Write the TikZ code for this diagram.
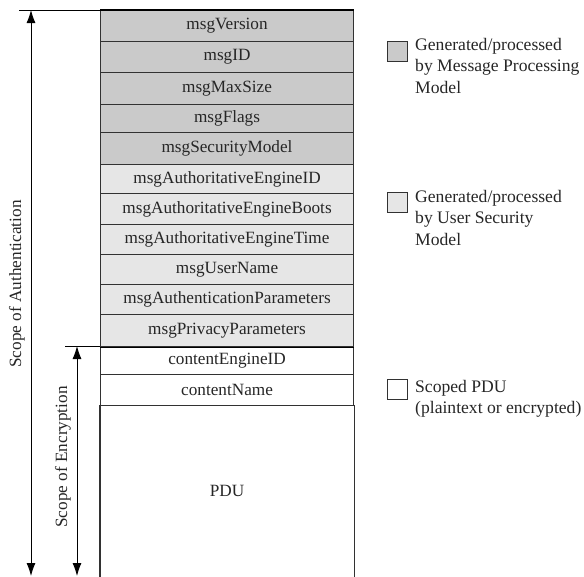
\documentclass[tikz,border=0pt]{standalone}
\usepackage{fontspec}
\setmainfont{Liberation Serif}
\usetikzlibrary{arrows.meta}
\definecolor{darkg}{RGB}{202,202,202}
\definecolor{lightg}{RGB}{230,230,230}
\definecolor{edge}{RGB}{50,50,50}
\begin{document}
\begin{tikzpicture}[x=1pt,y=-1pt,
  rowbox/.style={draw=edge, line width=1.1pt, minimum width=253pt, inner sep=0pt, anchor=north west, font=\fontsize{17.2}{20}\selectfont, text=black!85},
  legsq/.style={draw=edge, line width=1.2pt, minimum width=20pt, minimum height=20pt, inner sep=0pt, anchor=north west},
  legtxt/.style={anchor=north west, align=left, inner sep=0pt, font=\fontsize{17.6}{21.5}\selectfont, text=black!85},
  scopearrow/.style={{Latex[length=13pt,width=9pt]}-{Latex[length=13pt,width=9pt]}, line width=0.9pt},
  scopelabel/.style={rotate=90, font=\fontsize{17.2}{20}\selectfont, text=black!85}]
\useasboundingbox (0,0) rectangle (584,576);
% rows
\node[rowbox, fill=darkg, minimum height=31pt] (r1) at (100,10) {msgVersion};
\node[rowbox, fill=darkg, minimum height=31pt] (r2) at (100,41) {msgID};
\node[rowbox, fill=darkg, minimum height=32pt] (r3) at (100,72) {msgMaxSize};
\node[rowbox, fill=darkg, minimum height=28pt] (r4) at (100,104) {msgFlags};
\node[rowbox, fill=darkg, minimum height=32pt] (r5) at (100,132) {msgSecurityModel};
\node[rowbox, fill=lightg, minimum height=29pt] (r6) at (100,164) {msgAuthoritativeEngineID};
\node[rowbox, fill=lightg, minimum height=31pt] (r7) at (100,193) {msgAuthoritativeEngineBoots};
\node[rowbox, fill=lightg, minimum height=30pt] (r8) at (100,224) {msgAuthoritativeEngineTime};
\node[rowbox, fill=lightg, minimum height=30pt] (r9) at (100,254) {msgUserName};
\node[rowbox, fill=lightg, minimum height=30pt] (r10) at (100,284) {msgAuthenticationParameters};
\node[rowbox, fill=lightg, minimum height=32pt] (r11) at (100,314) {msgPrivacyParameters};
\node[rowbox, fill=white, minimum height=28pt] (r12) at (100,346) {contentEngineID};
\node[rowbox, fill=white, minimum height=31pt] (r13) at (100,374) {contentName};
\node[rowbox, draw=none, minimum height=171pt] (pdu) at (100,405) {PDU};
\draw[draw=edge, line width=1.1pt] (pdu.north west) -- (pdu.south west);
\draw[draw=edge, line width=1.1pt] (pdu.north east) -- (pdu.south east);
\draw[line width=1.2pt] (r1.north west) -- (r1.north east);
\draw[line width=1.2pt] (r11.south west) -- (r11.south east);
% scope arrows
\coordinate (authtop) at (19,10);
\coordinate (autha) at (31,10);
\coordinate (authb) at (31,576);
\coordinate (enctop) at (65,346);
\coordinate (enca) at (77,346);
\coordinate (encb) at (77,576);
\draw[line width=0.9pt] (authtop) -- (r1.north west);
\draw[line width=0.9pt] (enctop) -- (r12.north west);
\draw[scopearrow] (autha) -- (authb);
\draw[scopearrow] (enca) -- (encb);
\node[scopelabel] (authlbl) at (17,284) {Scope of Authentication};
\node[scopelabel] (enclbl) at (63,457) {Scope of Encryption};
% legend
\node[legsq, fill=darkg] (l1) at (387,41) {};
\node[legtxt] (t1) at (415,38) {Generated/processed\\by Message Processing\\Model};
\node[legsq, fill=lightg] (l2) at (387,192) {};
\node[legtxt] (t2) at (415,190) {Generated/processed\\by User Security\\Model};
\node[legsq, fill=white] (l3) at (387,379) {};
\node[legtxt] (t3) at (415,380) {Scoped PDU\\(plaintext or encrypted)};
\end{tikzpicture}
\end{document}
